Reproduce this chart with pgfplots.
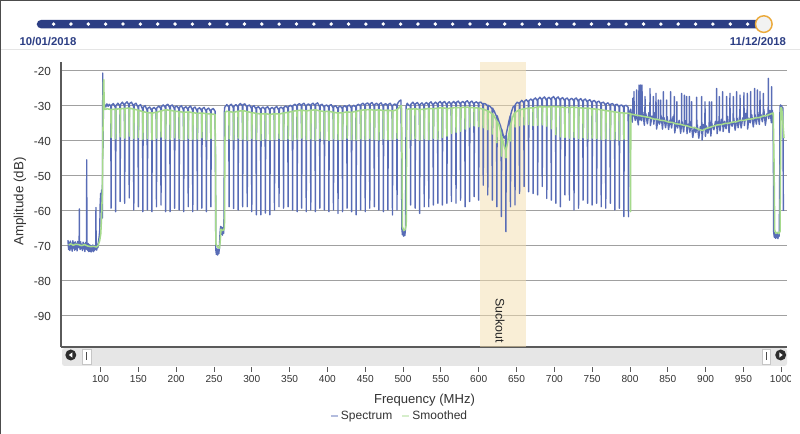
\documentclass[border=0pt]{standalone}
\usepackage{pgfplots}
\pgfplotsset{compat=1.18}
\usepackage{fontspec}
\setmainfont{Liberation Sans}
\definecolor{specblue}{RGB}{88,108,182}
\definecolor{smoothgreen}{RGB}{165,218,140}
\definecolor{bandbeige}{RGB}{245,223,175}
\definecolor{navy}{RGB}{44,62,132}
\definecolor{knoborange}{RGB}{235,170,60}
\definecolor{gridgray}{RGB}{160,160,160}
\definecolor{axisgray}{RGB}{90,90,90}
\definecolor{txt}{RGB}{51,51,51}
\definecolor{sbgray}{RGB}{230,230,230}
\definecolor{btn}{RGB}{45,45,45}
\begin{document}
\begin{tikzpicture}
\begin{scope}[x=0.75pt,y=-0.75pt]
\path[use as bounding box] (0,0) rectangle (800,434);
\fill[white] (0,0) rectangle (800,434);
% frame
\draw[gray!60!black, line width=0.9pt] (0.5,434) -- (0.5,0.5) -- (800,0.5);
\draw[gray!20, line width=0.75pt] (1,49.5) -- (800,49.5);
% timeline
\fill[navy, rounded corners=3.5] (36.7,19.8) rectangle (770,28.5);
\foreach \i in {0,...,40} \fill[white] ({53.6+17.35*\i},24.1) circle (1.9);
\filldraw[fill=black!5, draw=knoborange, line width=1.1pt] (763.8,24.1) circle (8.3);
\node[font=\bfseries\fontsize{8.5}{9}\selectfont, text=navy] at (48,41.7) {10/01/2018};
\node[font=\bfseries\fontsize{8.5}{9}\selectfont, text=navy] at (758,41.7) {11/12/2018};
% scrollbar
\fill[sbgray, rounded corners=2] (62,348) rectangle (787,366);
\fill[btn] (70.8,355) circle (5.5);
\fill[white] (72.3,352.4) -- (68.9,355) -- (72.3,357.6) -- cycle;
\filldraw[fill=white, draw=gray!45] (82,349.5) rectangle (91,364.5);
\fill[gray!60!black] (85.8,352.5) rectangle (87.2,360.5);
\filldraw[fill=white, draw=gray!45] (762,349.5) rectangle (770.5,364.5);
\fill[gray!60!black] (765.6,352.5) rectangle (767,360.5);
\fill[btn] (780.7,355) circle (5.5);
\fill[white] (779.3,352.4) -- (782.7,355) -- (779.3,357.6) -- cycle;
% labels
\node[rotate=90, font=\fontsize{10}{12}\selectfont, text=txt] at (20,201.5) {Amplitude (dB)};
\node[font=\fontsize{9.8}{12}\selectfont, text=txt] at (424.5,400) {Frequency (MHz)};
\end{scope}

\begin{axis}[
  at={(45.75pt,-260.25pt)}, anchor=south west,
  scale only axis, width=544.5pt, height=213.75pt,
  xmin=47.78, xmax=1007.6, ymin=-98.86, ymax=-17.43,
  axis x line*=bottom, axis y line*=left,
  x axis line style={-}, y axis line style={-},
  axis line style={-, draw=axisgray, line width=1pt},
  xtick=\empty,
  ytick={-90,-80,-70,-60,-50,-40,-30,-20},
  ymajorgrids, grid style={draw=gridgray, line width=0.75pt},
  major tick length=0pt,
  yticklabel style={font=\fontsize{8.8}{9}\selectfont, text=txt, xshift=-4pt},
  /pgf/number format/assume math mode=true,
  legend style={at={(0.4669,-0.2421)}, anchor=center, draw=none, fill=none,
    font=\fontsize{9}{10}\selectfont, text=txt, legend columns=2,
    /tikz/every even column/.append style={column sep=5pt}},
  legend image code/.code={\draw[#1, line width=1.1pt] (0pt,0pt) -- (5pt,0pt);},
  legend image post style={opacity=0.45, xshift=0pt},
]
\addplot[forget plot, draw=none, fill=bandbeige, fill opacity=0.5] coordinates {(602,-98.86) (663,-98.86) (663,-17.43) (602,-17.43)} -- cycle;

\addplot[specblue, line width=1.05pt, line join=round] coordinates {
(57,-68.3) (57.8,-71) (58.6,-69) (59.4,-71.3) (60.2,-68.6) (61,-70.8) (61.8,-69.2) (62.6,-71.5) (63.4,-68.5) (64.2,-70.6) (65,-69) (65.8,-71.2) (66.6,-68.8) (67.4,-70.9) (68.2,-69.3) (69,-71.4) (69.8,-68.7) (70.6,-70.5) (71.4,-69.5) (71.8,-69) (72,-59.4) (72.2,-69.5) (73,-71) (73.8,-68.8) (74.6,-70.7) (75.4,-69.6) (76.2,-71.3) (77,-68.9) (77.8,-70.8) (78.6,-69.4) (79.4,-71.6) (80.2,-69) (81,-70.9) (81.6,-69.5) (81.8,-45.4) (82,-69.8) (82.8,-71.2) (83.6,-69.3) (84.4,-71.6) (85.2,-69.6) (86,-71.5) (86.8,-69.8) (87.6,-71.7) (88.4,-70) (89.2,-71.4) (90,-69.7) (90.8,-71.6) (91.6,-70) (92.4,-71.2) (93.2,-69.8) (93.8,-70.5) (94,-59) (94.2,-70.3) (95,-71.2) (95.8,-69.5) (96.6,-70.5) (97.4,-68.5) (98.2,-67.5) (99,-65.5) (99.6,-58) (100.2,-55) (100.8,-57) (101.4,-54) (102,-56) (102.4,-62) (102.7,-46) (103,-20.6) (103.4,-42) (103.8,-31) (104.2,-30.5)
(105.5,-29.6) (107,-30.3) (108.5,-29.4) (110,-30.1) (111.5,-29.5)
(113.6,-30.1) (114,-59.2) (114.4,-29.8) (117,-29.3)
(119.6,-30.4) (120,-60.2) (120.4,-29.9) (123,-29.2)
(125.6,-30.0) (126,-57.3) (126.4,-29.6) (129,-28.9)
(131.6,-29.9) (132,-57.8) (132.4,-29.4) (135,-28.8)
(137.6,-29.7) (138,-56.3) (138.4,-29.3) (141,-28.9)
(143.6,-30.1) (144,-59.7) (144.4,-29.6) (147,-29.2)
(149.6,-30.4) (150,-58.8) (150.4,-30.0) (153,-29.6)
(155.6,-30.9) (156,-60.2) (156.4,-30.4) (159,-29.9)
(161.6,-31.2) (162,-59.7) (162.4,-30.7) (165,-30.3)
(167.6,-31.3) (168,-60.2) (168.4,-30.8) (171,-30.4)
(173.6,-31.1) (174,-58.8) (174.4,-30.6) (177,-30.0)
(179.6,-30.7) (180,-58.3) (180.4,-30.2) (183,-29.7)
(185.6,-30.4) (186,-60.2) (186.4,-29.9) (189,-29.5)
(191.6,-30.5) (192,-60.2) (192.4,-30.0) (195,-29.7)
(197.6,-30.8) (198,-59.2) (198.4,-30.3) (201,-30.0)
(203.6,-30.9) (204,-59.7) (204.4,-30.4) (207,-29.9)
(209.6,-31.1) (210,-60.2) (210.4,-30.6) (213,-30.2)
(215.6,-31.0) (216,-58.8) (216.4,-30.5) (219,-30.0)
(221.6,-31.2) (222,-60.2) (222.4,-30.7) (225,-30.3)
(227.6,-31.4) (228,-59.7) (228.4,-30.9) (231,-30.5)
(233.6,-31.3) (234,-59.2) (234.4,-30.8) (237,-30.4)
(239.6,-31.5) (240,-60.2) (240.4,-31.0) (243,-30.6)
(245.6,-31.6) (246,-58.8) (246.4,-31.1) (249,-30.7)
(251.5,-31.5) (252,-50) (252.4,-71) (253.2,-72.4) (254,-70.8) (254.8,-72.6) (255.6,-71) (256.4,-72.2) (257.2,-70.6) (258,-66.5) (258.8,-64.4) (259.6,-66.6) (260.4,-64.6) (261.2,-66.9) (262,-64.8) (262.8,-66.4) (263.4,-60.5) (263.8,-31.5) (264.2,-30.4) (267,-29.6)
(269.6,-30.3) (270,-58.8) (270.4,-29.9) (273,-29.5)
(275.6,-30.5) (276,-59.3) (276.4,-30.1) (279,-29.6)
(281.6,-30.2) (282,-59.7) (282.4,-29.8) (285,-29.3)
(287.6,-30.0) (288,-58.8) (288.4,-29.6) (291,-29.4)
(293.6,-30.4) (294,-58.8) (294.4,-30.0) (297,-29.7)
(299.6,-30.7) (300,-60.2) (300.4,-30.3) (303,-29.9)
(305.6,-30.9) (306,-61.1) (306.4,-30.5) (309,-30.2)
(311.6,-31.1) (312,-61.1) (312.4,-30.7) (315,-30.3)
(317.6,-31.0) (318,-60.6) (318.4,-30.6) (321,-30.2)
(323.6,-31.2) (324,-61.1) (324.4,-30.8) (327,-30.4)
(329.6,-31.0) (330,-59.7) (330.4,-30.6) (333,-30.1)
(335.6,-31.2) (336,-58.8) (336.4,-30.7) (339,-30.3)
(341.6,-30.9) (342,-59.2) (342.4,-30.4) (345,-30.0)
(347.6,-30.6) (348,-58.8) (348.4,-30.2) (351,-29.8)
(353.6,-30.3) (354,-59.7) (354.4,-29.9) (357,-29.5)
(359.6,-30.1) (360,-60.2) (360.4,-29.7) (363,-29.3)
(365.6,-30.0) (366,-59.2) (366.4,-29.6) (369,-29.2)
(371.6,-30.2) (372,-60.2) (372.4,-29.8) (375,-29.4)
(377.6,-30.0) (378,-59.7) (378.4,-29.6) (381,-29.2)
(383.6,-29.9) (384,-60.2) (384.4,-29.5) (387,-29.1)
(389.6,-30.2) (390,-59.2) (390.4,-29.8) (393,-29.5)
(395.6,-30.4) (396,-59.7) (396.4,-30.0) (399,-29.7)
(401.6,-30.3) (402,-60.2) (402.4,-29.9) (405,-29.6)
(407.6,-30.6) (408,-59.7) (408.4,-30.2) (411,-29.9)
(413.6,-30.8) (414,-60.7) (414.4,-30.4) (417,-30.0)
(419.6,-30.7) (420,-60.2) (420.4,-30.3) (423,-29.9)
(425.6,-30.5) (426,-59.2) (426.4,-30.1) (429,-29.7)
(431.6,-30.6) (432,-60.2) (432.4,-30.2) (435,-29.8)
(437.6,-30.3) (438,-61.1) (438.4,-29.9) (441,-29.5)
(443.6,-30.0) (444,-59.7) (444.4,-29.6) (447,-29.2)
(449.6,-29.9) (450,-60.2) (450.4,-29.5) (453,-29.1)
(455.6,-29.8) (456,-59.2) (456.4,-29.4) (459,-29.0)
(461.6,-30.0) (462,-58.8) (462.4,-29.6) (465,-29.2)
(467.6,-29.9) (468,-59.7) (468.4,-29.5) (471,-29.1)
(473.6,-30.1) (474,-60.2) (474.4,-29.7) (477,-29.3)
(479.6,-30.0) (480,-59.7) (480.4,-29.6) (483,-29.2)
(485.6,-30.2) (486,-61.1) (486.4,-29.8) (489,-29.4)
(491.6,-30.0) (492,-59.7) (492.4,-29.4) (495,-28.6)
(497.2,-28.3) (497.8,-40) (498.4,-65) (499.2,-66.8) (500,-65.4) (500.8,-67.2) (501.6,-65.6) (502.4,-67) (503.2,-65) (503.6,-50) (504,-30.2) (505.5,-29.2) (507.5,-29.8)
(509.6,-29.9) (510,-58.3) (510.4,-29.5) (513,-28.9)
(515.6,-29.8) (516,-59.2) (516.4,-29.4) (519,-29.0)
(521.6,-30.0) (522,-60.7) (522.4,-29.6) (525,-29.1)
(527.6,-29.9) (528,-58.8) (528.4,-29.5) (531,-29.0)
(533.6,-29.7) (534,-58.8) (534.4,-29.3) (537,-28.8)
(539.6,-29.8) (540,-58.3) (540.4,-29.4) (543,-28.9)
(545.6,-29.6) (546,-57.8) (546.4,-29.2) (549,-28.7)
(551.6,-29.5) (552,-58.3) (552.4,-29.1) (555,-28.7)
(557.6,-29.7) (558,-57.8) (558.4,-29.3) (561,-28.8)
(563.6,-29.6) (564,-57.3) (564.4,-29.2) (567,-28.7)
(569.6,-29.4) (570,-57.8) (570.4,-29.0) (573,-28.6)
(575.6,-29.5) (576,-56.9) (576.4,-29.1) (579,-28.7)
(581.6,-29.3) (582,-58.8) (582.4,-28.9) (585,-28.5)
(587.6,-29.4) (588,-57.3) (588.4,-29.0) (591,-28.6)
(593.6,-29.5) (594,-55.9) (594.4,-29.1) (597,-28.8)
(599.6,-29.4) (600,-56.9) (600.4,-29.0) (603,-28.9)
(605.6,-29.6) (606,-52.6) (606.4,-29.3) (609,-29.4)
(611.6,-30.0) (612,-55.4) (612.4,-29.8) (615,-30.1)
(617.6,-30.8) (618,-56.9) (618.4,-30.6) (621,-31.7)
(623.6,-33.0) (624,-58.8) (624.4,-32.8) (627,-34.6) (629,-35.8)
(629.6,-36.4) (630,-61.6) (630.4,-36.6) (632,-38.0) (633.5,-39.2)
(635.6,-38.5) (636,-65.9) (636.4,-38.0) (638,-36.4) (640,-34.3)
(641.6,-32.8) (642,-58.8) (642.4,-32.4) (644,-31.2) (645.5,-30.3)
(647.6,-29.9) (648,-58.3) (648.4,-29.6) (651,-28.9)
(653.6,-29.3) (654,-55.0) (654.4,-29.0) (657,-28.4)
(659.6,-29.1) (660,-53.0) (660.4,-28.7) (663,-28.2)
(665.6,-28.9) (666,-54.5) (666.4,-28.5) (669,-28.0)
(671.6,-28.6) (672,-55.0) (672.4,-28.2) (675,-27.7)
(677.6,-28.5) (678,-55.4) (678.4,-28.1) (681,-27.5)
(683.6,-28.3) (684,-53.0) (684.4,-27.9) (687,-27.4)
(689.6,-28.4) (690,-56.4) (690.4,-28.0) (693,-27.5)
(695.6,-28.2) (696,-56.9) (696.4,-27.8) (699,-27.3)
(701.6,-28.3) (702,-57.8) (702.4,-27.9) (705,-27.4)
(707.6,-28.4) (708,-58.8) (708.4,-28.0) (711,-27.6)
(713.6,-28.5) (714,-55.4) (714.4,-28.1) (717,-27.7)
(719.6,-28.6) (720,-56.9) (720.4,-28.2) (723,-27.8)
(725.6,-28.5) (726,-59.7) (726.4,-28.1) (729,-27.7)
(731.6,-28.7) (732,-59.2) (732.4,-28.3) (735,-27.9)
(737.6,-28.8) (738,-56.9) (738.4,-28.4) (741,-28.0)
(743.6,-28.9) (744,-57.8) (744.4,-28.5) (747,-28.2)
(749.6,-29.1) (750,-58.3) (750.4,-28.7) (753,-28.4)
(755.6,-29.3) (756,-57.8) (756.4,-28.9) (759,-28.6)
(761.6,-29.5) (762,-58.8) (762.4,-29.1) (765,-28.9)
(767.6,-29.8) (768,-59.2) (768.4,-29.4) (771,-29.1)
(773.6,-29.9) (774,-57.8) (774.4,-29.5) (777,-29.3)
(779.6,-30.1) (780,-59.7) (780.4,-29.7) (783,-29.5)
(785.6,-30.3) (786,-59.2) (786.4,-29.9) (789,-29.7)
(791.6,-30.4) (792,-61.6) (792.4,-30.0) (795,-29.8)
(797.6,-30.4) (798,-61.6) (798.4,-31.5) (799.5,-32.8) (800.3,-31.2)
(801,-30.9) (803,-34.6) (803.6,-32.4) (803.8,-27.8) (804,-32.4) (805,-31.8) (805.1,-32.4) (805.3,-25.9) (805.5,-32.4) (807,-34.1) (808.6,-32.6) (808.8,-25.4) (809,-32.6) (811,-35.4)
(811.7,-32.7) (811.9,-24.0) (812.2,-33.5) (812.6,-31.5) (813,-24.5) (813.3,-34) (813.7,-32) (814.1,-24.0) (814.4,-33.2) (814.7,-31.8) (815,-25.0) (815.3,-34.2) (815.6,-32.5) (815.9,-24.0) (816.2,-33)
(817,-31.8) (819,-35.5) (819.7,-33.0) (819.9,-27.3) (820.1,-33.0) (821,-32.2) (823,-35.1) (825,-31.9) (826.3,-33.4) (826.5,-25.0) (826.7,-33.4) (827,-35.6) (829,-32.9) (830.7,-33.6) (830.9,-27.3) (831.1,-33.6) (831.5,-35.2)
(833,-31.9) (834.2,-33.8) (834.4,-26.4) (834.6,-33.8) (835.2,-36.6) (837,-33.7) (837.3,-33.9) (837.5,-28.3) (837.7,-33.9) (839,-35.2) (840.4,-34.0) (840.6,-28.3) (840.8,-34.0) (841.3,-32.9) (843,-36.6) (843.9,-34.2) (844.1,-25.9) (844.3,-34.2) (845,-33.3) (847,-36.2)
(848.3,-34.4) (848.5,-28.3) (848.7,-34.4) (849.2,-33.0) (851,-36.7) (853,-34.0) (853.6,-34.6) (853.8,-25.9) (854,-34.6) (855,-36.3) (857,-33.0) (858.4,-34.9) (858.6,-27.3) (858.8,-34.9) (859.2,-37.7) (861,-34.8) (861.8,-35.1) (862,-28.8) (862.2,-35.1) (863,-36.3) (865,-34.1) (867,-37.8)
(868.1,-35.4) (868.3,-26.4) (868.5,-35.4) (869,-34.5) (871,-37.4) (871.7,-35.5) (871.9,-26.9) (872.1,-35.5) (873,-34.2) (874.7,-35.7) (874.9,-27.3) (875.1,-35.7) (875.4,-37.9) (877,-35.2) (878.3,-35.9) (878.5,-27.3) (878.7,-35.9) (879.2,-37.5) (881,-34.3) (881.3,-36.1) (881.5,-28.8) (881.7,-36.1) (883,-39.0) (885,-36.1) (887,-37.6)
(888,-36.5) (888.2,-27.5) (888.4,-36.5) (889,-35.4) (891,-39.2) (893,-35.9) (894.6,-36.9) (894.8,-27.3) (895,-36.9) (895.4,-39.7) (897,-35.3) (899,-36.5) (899.2,-28.8) (899.4,-36.5) (899.8,-38.7) (901,-35.7) (903,-37.8) (904.7,-36.0) (904.9,-28.8) (905.1,-36.0) (905.4,-34.2) (907,-38.6)
(907.8,-35.8) (908,-28.8) (908.2,-35.8) (909,-35.5) (911,-36.8) (913,-34.4) (914.4,-35.4) (914.6,-25.0) (914.8,-35.4) (915.2,-37.9) (917,-34.4) (917.9,-35.2) (918.1,-27.3) (918.3,-35.2) (919,-37.1) (921,-33.8) (922.3,-35.1) (922.5,-25.9) (922.7,-35.1) (923.2,-37.3) (925,-34.4) (927,-36.5)
(927.6,-34.9) (927.8,-27.3) (928,-34.9) (929,-33.0) (931,-37.6) (932,-34.7) (932.2,-26.4) (932.4,-34.7) (933,-34.5) (935,-35.8) (936.4,-34.5) (936.6,-27.3) (936.8,-34.5) (937.2,-33.4) (939,-36.9) (940.8,-34.4) (941,-25.9) (941.2,-34.4) (941.6,-33.5) (943,-36.2) (945,-32.8)
(945.3,-34.2) (945.5,-26.9) (945.7,-34.2) (947,-36.3) (949,-33.4) (950.5,-34.0) (950.7,-26.2) (950.9,-34.0) (951.3,-35.6) (953,-32.1) (954.9,-33.8) (955.1,-26.4) (955.3,-33.8) (955.6,-36.6) (957,-33.5) (959,-34.8) (959.4,-33.6) (959.6,-25.9) (959.8,-33.6) (961,-32.5) (963,-36.0)
(964.6,-33.4) (964.8,-25.0) (965,-33.4) (965.4,-32.5) (967,-35.2) (968.2,-33.2) (968.4,-25.4) (968.6,-33.2) (969,-31.8) (971,-35.3) (971.7,-33.1) (971.9,-25.9) (972.1,-33.1) (973,-32.4) (975,-34.5) (976.1,-32.8) (976.3,-26.4) (976.5,-32.8) (977,-31.0) (979,-35.5) (981,-32.3)
(982.7,-32.4) (982.9,-22.1) (983.1,-32.4) (983.5,-33.6) (985,-31.3) (987,-34.8) (987.1,-32.3) (987.3,-24.5) (987.5,-32.3) (988.3,-31.3) (989,-33)
(989.6,-45) (990,-66) (990.8,-67.5) (991.6,-66.2) (992.4,-67.8) (993.2,-66.4) (994,-67.6) (994.8,-66.3) (995.6,-67.9) (996.4,-66.5) (997.2,-67.2) (997.8,-58) (998.3,-30.2) (999,-29.7) (999.8,-30.6) (1000.6,-29.9) (1001.4,-31) (1002.2,-30.5) (1002.8,-60)
};
\addlegendentry{Spectrum}

\addplot[smoothgreen, line width=1.15pt, line join=round, xshift=0.5pt] coordinates {
(57,-69.7) (60,-69.4) (63,-69.8) (66,-69.5) (70,-69.6) (74,-69.9) (78,-69.6) (82,-70.0) (86,-70.2) (90,-70.1) (94,-70.3) (96,-69.8) (98,-68.5) (99.5,-66.5) (100.5,-62) (101.5,-55) (102.3,-40) (102.9,-23.5) (103.4,-22.5) (103.9,-28) (104.5,-31) (108,-30.8)
(112.85,-31.0) (113.2,-39.0) (113.55,-31.0)
(118.85,-30.9) (119.2,-39.4) (119.55,-30.9)
(124.85,-30.8) (125.2,-38.8) (125.55,-30.8)
(130.85,-30.7) (131.2,-39.2) (131.55,-30.7)
(136.85,-30.6) (137.2,-38.6) (137.55,-30.6)
(142.85,-30.9) (143.2,-39.3) (143.55,-30.9)
(148.85,-31.2) (149.2,-39.0) (149.55,-31.2)
(154.85,-31.6) (155.2,-39.5) (155.55,-31.6)
(160.85,-31.9) (161.2,-39.3) (161.55,-31.9)
(166.85,-32.0) (167.2,-39.6) (167.55,-32.0)
(172.85,-31.8) (173.2,-39.2) (173.55,-31.8)
(178.85,-31.4) (179.2,-38.9) (179.55,-31.4)
(184.85,-31.1) (185.2,-39.4) (185.55,-31.1)
(190.85,-31.2) (191.2,-39.5) (191.55,-31.2)
(196.85,-31.5) (197.2,-39.1) (197.55,-31.5)
(202.85,-31.6) (203.2,-39.4) (203.55,-31.6)
(208.85,-31.8) (209.2,-39.6) (209.55,-31.8)
(214.85,-31.7) (215.2,-39.2) (215.55,-31.7)
(220.85,-31.9) (221.2,-39.5) (221.55,-31.9)
(226.85,-32.1) (227.2,-39.4) (227.55,-32.1)
(232.85,-32.0) (233.2,-39.1) (233.55,-32.0)
(238.85,-32.2) (239.2,-39.6) (239.55,-32.2)
(244.85,-32.3) (245.2,-39.3) (245.55,-32.3)
(250.5,-32.4) (251.2,-45) (251.8,-69.5) (254,-70.3) (256.5,-70.6) (257.6,-68) (258.4,-65.2) (260,-65.6) (262,-65.4) (263,-64.8) (263.5,-45) (264,-31.8) (266,-31.5)
(268.85,-31.6) (269.2,-39.4) (269.55,-31.6)
(274.85,-31.8) (275.2,-39.6) (275.55,-31.8)
(280.85,-31.5) (281.2,-39.2) (281.55,-31.5)
(286.85,-31.3) (287.2,-39.5) (287.55,-31.3)
(292.85,-31.6) (293.2,-39.7) (293.55,-31.6)
(298.85,-31.9) (299.2,-39.3) (299.55,-31.9)
(304.85,-32.1) (305.2,-39.6) (305.55,-32.1)
(310.85,-32.3) (311.2,-39.8) (311.55,-32.3)
(316.85,-32.2) (317.2,-39.4) (317.55,-32.2)
(322.85,-32.4) (323.2,-39.7) (323.55,-32.4)
(328.85,-32.2) (329.2,-39.5) (329.55,-32.2)
(334.85,-32.3) (335.2,-39.3) (335.55,-32.3)
(340.85,-32.0) (341.2,-39.6) (341.55,-32.0)
(346.85,-31.8) (347.2,-39.4) (347.55,-31.8)
(352.85,-31.5) (353.2,-39.7) (353.55,-31.5)
(358.85,-31.3) (359.2,-39.5) (359.55,-31.3)
(364.85,-31.2) (365.2,-39.2) (365.55,-31.2)
(370.85,-31.4) (371.2,-39.6) (371.55,-31.4)
(376.85,-31.2) (377.2,-39.4) (377.55,-31.2)
(382.85,-31.1) (383.2,-39.7) (383.55,-31.1)
(388.85,-31.4) (389.2,-39.3) (389.55,-31.4)
(394.85,-31.6) (395.2,-39.5) (395.55,-31.6)
(400.85,-31.5) (401.2,-39.8) (401.55,-31.5)
(406.85,-31.8) (407.2,-39.4) (407.55,-31.8)
(412.85,-32.0) (413.2,-39.6) (413.55,-32.0)
(418.85,-31.9) (419.2,-39.5) (419.55,-31.9)
(424.85,-31.7) (425.2,-39.2) (425.55,-31.7)
(430.85,-31.8) (431.2,-39.6) (431.55,-31.8)
(436.85,-31.5) (437.2,-39.7) (437.55,-31.5)
(442.85,-31.2) (443.2,-39.4) (443.55,-31.2)
(448.85,-31.1) (449.2,-39.6) (449.55,-31.1)
(454.85,-31.0) (455.2,-39.3) (455.55,-31.0)
(460.85,-31.2) (461.2,-39.5) (461.55,-31.2)
(466.85,-31.1) (467.2,-39.7) (467.55,-31.1)
(472.85,-31.3) (473.2,-39.4) (473.55,-31.3)
(478.85,-31.2) (479.2,-39.6) (479.55,-31.2)
(484.85,-31.4) (485.2,-39.5) (485.55,-31.4)
(490.85,-31.1) (491.2,-39.3) (491.55,-31.0)
(495,-30.2) (497,-29.9) (497.6,-40) (498.3,-64.5) (500,-65.6) (502,-65.3) (503.3,-64) (503.8,-40) (504.3,-31.0) (507,-30.8)
(508.85,-30.9) (509.2,-39.5) (509.55,-30.9)
(514.85,-30.8) (515.2,-39.3) (515.55,-30.8)
(520.85,-31.0) (521.2,-39.7) (521.55,-31.0)
(526.85,-30.9) (527.2,-39.4) (527.55,-30.9)
(532.85,-30.7) (533.2,-39.6) (533.55,-30.7)
(538.85,-30.8) (539.2,-39.2) (539.55,-30.8)
(544.85,-30.6) (545.2,-39.5) (545.55,-30.6)
(550.85,-30.5) (551.2,-39.0) (551.55,-30.5)
(556.85,-30.7) (557.2,-38.6) (557.55,-30.7)
(562.85,-30.6) (563.2,-37.8) (563.55,-30.6)
(568.85,-30.4) (569.2,-37.5) (569.55,-30.4)
(574.85,-30.5) (575.2,-37.2) (575.55,-30.5)
(580.85,-30.3) (581.2,-36.6) (581.55,-30.3)
(586.85,-30.4) (587.2,-36.0) (587.55,-30.4)
(592.85,-30.5) (593.2,-35.7) (593.55,-30.5)
(598.85,-30.6) (599.2,-35.9) (599.55,-30.6)
(604.85,-30.9) (605.2,-36.2) (605.55,-30.9)
(610.85,-31.4) (611.2,-36.8) (611.55,-31.4)
(616.85,-32.2) (617.2,-38.0) (617.55,-32.3)
(620,-33.0) (622,-33.9)
(622.85,-34.2) (623.2,-40.5) (623.55,-34.4)
(626,-35.5) (628,-37.2)
(628.85,-38.2) (629.2,-44.3) (629.55,-38.6)
(631.5,-40.3) (633.5,-42.0)
(634.85,-42.6) (635.2,-44.8) (635.55,-42.4)
(637,-40.8) (639,-38.0) (640.5,-36.2)
(640.85,-35.7) (641.2,-40.0) (641.55,-35.2)
(643.5,-33.5) (645.5,-32.4)
(646.85,-32.0) (647.2,-36.0) (647.55,-31.8)
(652.85,-31.1) (653.2,-35.6) (653.55,-31.1)
(658.85,-30.8) (659.2,-35.4) (659.55,-30.8)
(664.85,-30.6) (665.2,-35.3) (665.55,-30.6)
(670.85,-30.5) (671.2,-35.6) (671.55,-30.5)
(676.85,-30.3) (677.2,-35.5) (677.55,-30.3)
(682.85,-30.2) (683.2,-35.4) (683.55,-30.2)
(688.85,-30.3) (689.2,-35.8) (689.55,-30.3)
(694.85,-30.2) (695.2,-36.5) (695.55,-30.2)
(700.85,-30.2) (701.2,-38.2) (701.55,-30.2)
(706.85,-30.3) (707.2,-38.8) (707.55,-30.3)
(712.85,-30.4) (713.2,-39.0) (713.55,-30.4)
(718.85,-30.4) (719.2,-39.2) (719.55,-30.4)
(724.85,-30.3) (725.2,-39.0) (725.55,-30.3)
(730.85,-30.5) (731.2,-39.3) (731.55,-30.5)
(736.85,-30.6) (737.2,-39.1) (737.55,-30.6)
(742.85,-30.6) (743.2,-39.4) (743.55,-30.6)
(748.85,-30.8) (749.2,-39.2) (749.55,-30.8)
(754.85,-30.9) (755.2,-39.3) (755.55,-30.9)
(760.85,-31.1) (761.2,-39.5) (761.55,-31.1)
(766.85,-31.3) (767.2,-39.4) (767.55,-31.3)
(772.85,-31.5) (773.2,-39.6) (773.55,-31.5)
(778.85,-31.7) (779.2,-39.5) (779.55,-31.7)
(784.85,-31.9) (785.2,-39.7) (785.55,-31.9)
(790.85,-32.0) (791.2,-39.5) (791.55,-32.0)
(796,-32.1) (799.3,-32.1) (799.8,-60.2) (800.3,-32.3)
(805,-32.5) (810,-32.7) (815,-32.9) (820,-33.1) (825,-33.3) (830,-33.7) (835,-33.8) (840,-34.1) (845,-34.2) (850,-34.6) (855,-34.7) (860,-35.1) (865,-35.2) (870,-35.5) (875,-35.7) (880,-36.1) (885,-36.2) (890,-36.7) (895,-37.0) (900,-36.4) (905,-36.1) (910,-35.7) (915,-35.4) (920,-35.3) (925,-35.0) (930,-34.9) (935,-34.6) (940,-34.5) (945,-34.1) (950,-34.1) (955,-33.8) (960,-33.7) (965,-33.4) (970,-33.3) (975,-32.9) (980,-32.7) (985,-32.3) (988.5,-32.0)
(989.5,-45) (990.5,-65.5) (992,-66.4) (994,-66.1) (996,-66.5) (997.5,-65.8) (998.2,-45) (998.8,-30.4) (999.8,-30.8) (1000.8,-33) (1001.8,-36.5) (1002.8,-39.2)
};
\addlegendentry{Smoothed}

\node[rotate=-90, font=\fontsize{9.3}{10}\selectfont, text=black!85] at (axis cs:628.2,-91.3) {Suckout};
\end{axis}

\begin{axis}[
  at={(45.75pt,-275.25pt)}, anchor=south west,
  scale only axis, width=544.5pt, height=1pt,
  xmin=47.78, xmax=1007.6, ymin=0, ymax=1,
  hide y axis, axis line style={draw=none},
  xtick={100,150,...,1000}, xtick pos=lower, xtick align=outside,
  major tick length=3.75pt,
  tick style={draw=axisgray, line width=0.6pt},
  xticklabel style={font=\fontsize{7.6}{8}\selectfont, text=txt, inner sep=2pt},
  /pgf/number format/assume math mode=true,
  /pgf/number format/1000 sep={},
]
\end{axis}

\begin{scope}[x=0.75pt,y=-0.75pt]
\fill[white] (790.5,373) rectangle (800,392);
\end{scope}
\end{tikzpicture}
\end{document}
